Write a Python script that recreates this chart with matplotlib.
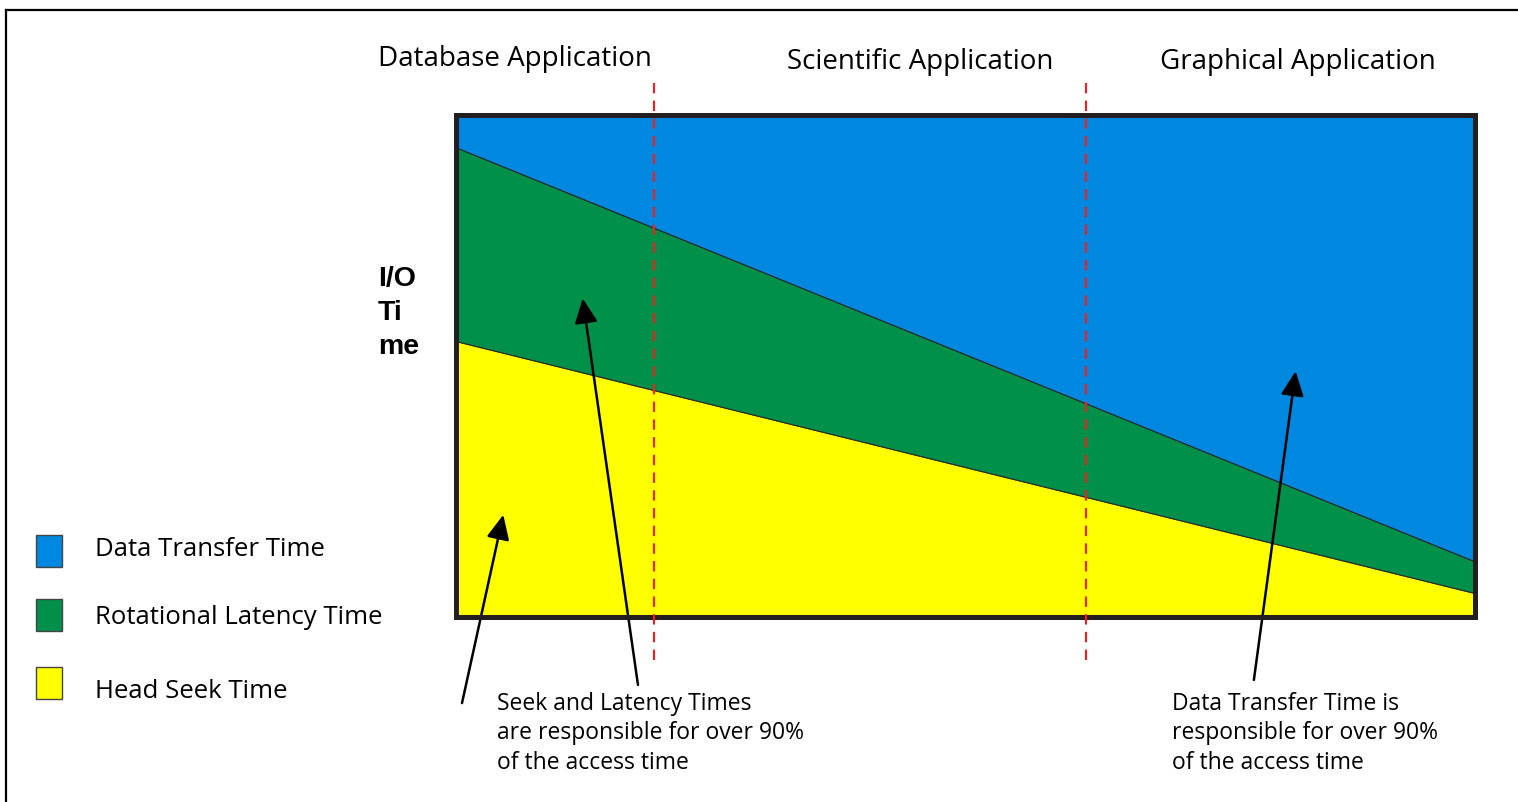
import matplotlib
matplotlib.use("Agg")
import matplotlib.pyplot as plt
from matplotlib.patches import Rectangle
from matplotlib.lines import Line2D

# workload position along x (0 = database-like, 1 = graphics-like)
workload = [0.0, 1.0]
# share of I/O time (%)
head_seek = [54.9, 4.7]
rot_latency = [38.6, 6.3]
data_transfer = [6.5, 89.0]

series_names = ["Data Transfer Time", "Rotational Latency Time", "Head Seek Time"]
series_colors = ["#0088e0", "#00904a", "#ffff00"]

app_names = ["Database Application", "Scientific Application", "Graphical Application"]
app_split = [0.194, 0.618]   # borders between application classes on the x scale

note_left = "Seek and Latency Times\nare responsible for over 90%\nof the access time"
note_right = "Data Transfer Time is\nresponsible for over 90%\nof the access time"

W, H = 1518, 802
fig = plt.figure(figsize=(W / 100, H / 100), dpi=100)
plt.rcParams['font.family'] = ['Open Sans', 'DejaVu Sans']


def fx(px):
    return px / W


def fy(py):
    return 1 - py / H


ax = fig.add_axes([fx(456), fy(616.7), fx(1475) - fx(456), fy(114.7) - fy(616.7)])
ax.stackplot(workload, head_seek, rot_latency, data_transfer,
             colors=series_colors[::-1], edgecolor="#2a2a2a", linewidth=0.8)
ax.set_xlim(0, 1)
ax.set_ylim(0, 100)
ax.set_xticks([])
ax.set_yticks([])
for s in ax.spines.values():
    s.set_linewidth(3.6)
    s.set_color("#231f20")
    s.set_zorder(5)

# dashed separators between application classes
for xs in app_split:
    ax.plot([xs, xs], [-8.6, 106.9], color="#ff1a1a", lw=1.5,
            ls=(0, (5, 3.5)), clip_on=False, zorder=6)

# application labels
app_x = [515, 920, 1298]
app_y = [59, 62, 62]
for name, px, py in zip(app_names, app_x, app_y):
    fig.text(fx(px), fy(py), name, ha="center", va="center", fontsize=20)

fig.text(fx(378), fy(266), "I/O\nTi\nme", ha="left", va="top", fontsize=20.5,
         fontweight="bold", family=["Liberation Sans", "DejaVu Sans"],
         linespacing=1.39)

# legend squares
leg_y = [551, 615, 683]
leg_text_y = [550, 617, 691]
for name, col, py, ty in zip(series_names, series_colors, leg_y, leg_text_y):
    fig.add_artist(Rectangle((fx(36), fy(py + 16)), fx(26), 32 / H,
                             facecolor=col, edgecolor="#444444", lw=1.0,
                             transform=fig.transFigure))
    fig.text(fx(95), fy(ty), name, ha="left", va="center", fontsize=18.5)

# arrows
arrow_kw = dict(arrowstyle="-|>,head_length=0.75,head_width=0.35",
                mutation_scale=20, color="black", lw=1.8, shrinkA=0, shrinkB=0)
ax.annotate("", xy=(0.0464, 20.3), xytext=(0.0059, -17.2),
            arrowprops=arrow_kw, annotation_clip=False)
ax.annotate("", xy=(0.1243, 63.4), xytext=(0.1786, -13.6),
            arrowprops=arrow_kw, annotation_clip=False)
ax.annotate("", xy=(0.824, 48.9), xytext=(0.783, -12.6),
            arrowprops=arrow_kw, annotation_clip=False)

fig.text(fx(497), fy(692), note_left, ha="left", va="top", fontsize=16.5,
         linespacing=1.3)
fig.text(fx(1172), fy(692), note_right, ha="left", va="top", fontsize=16.5,
         linespacing=1.3)

# outer frame (only top and left visible)
fig.add_artist(Line2D([fx(6), 1.0], [fy(10), fy(10)], color="black", lw=1.6,
                      transform=fig.transFigure))
fig.add_artist(Line2D([fx(6), fx(6)], [fy(10), 0.0], color="black", lw=1.6,
                      transform=fig.transFigure))

fig.savefig("out.png", dpi=100)
